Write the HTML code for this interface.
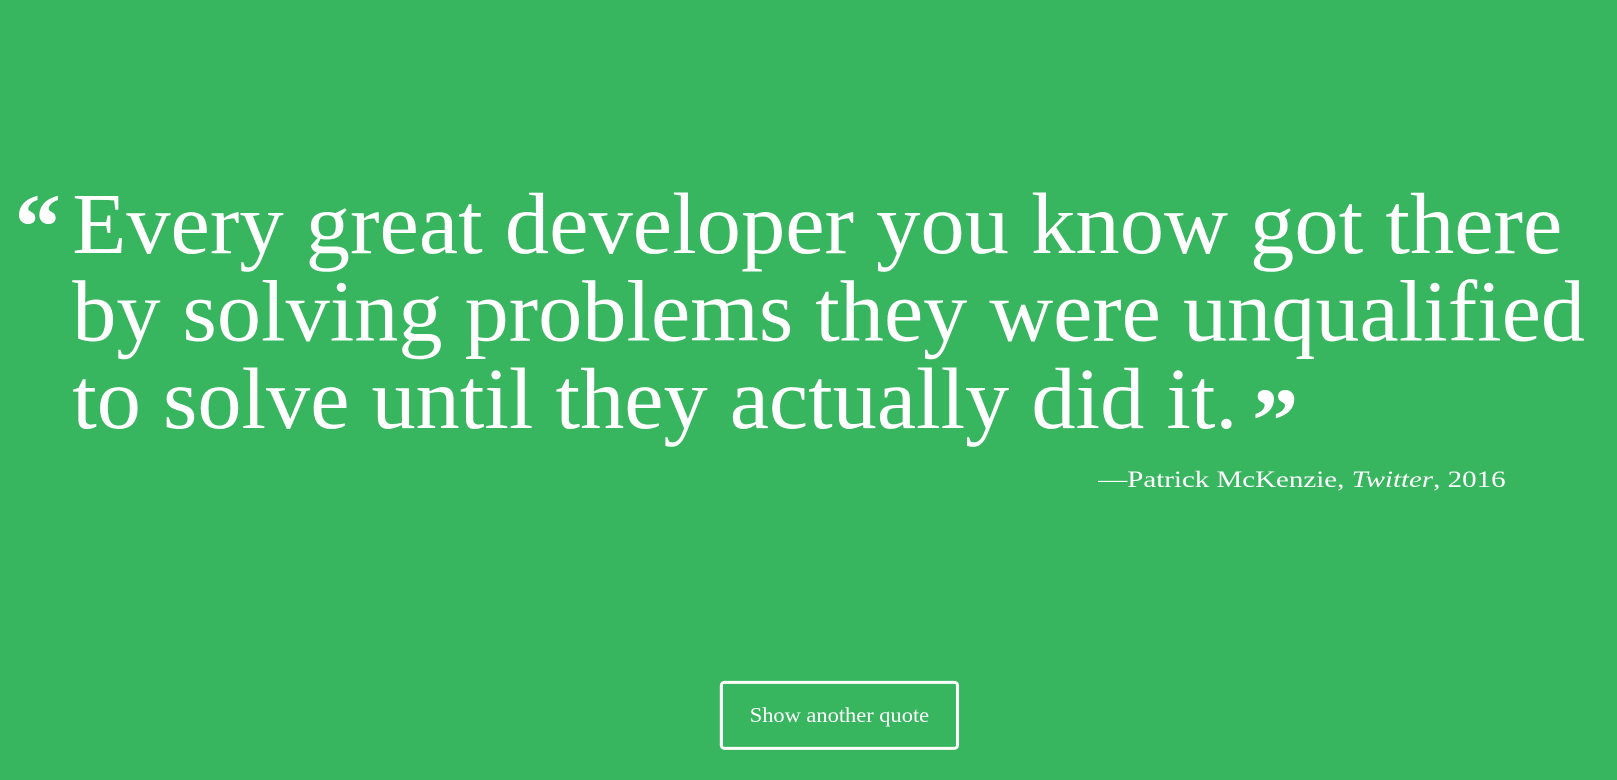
<!DOCTYPE html>
<html><head><meta charset="utf-8">
<style>
html,body{margin:0;padding:0;width:1617px;height:780px;overflow:hidden;background:#38b55f;}
svg{position:absolute;left:0;top:0;}
.q{font-family:"Liberation Serif",serif;fill:#fff;}
</style></head>
<body>
<svg width="1617" height="780" viewBox="0 0 1568 756">
  <text class="q" x="14" y="250" font-size="90" font-weight="bold">“</text>
  <g>
    <text class="q" x="70" y="245" font-size="84" textLength="1445" lengthAdjust="spacingAndGlyphs">Every great developer you know got there</text>
    <text class="q" x="70" y="330" font-size="84" textLength="1467" lengthAdjust="spacingAndGlyphs">by solving problems they were unqualified</text>
    <text class="q" x="70" y="415" font-size="84" textLength="1130" lengthAdjust="spacingAndGlyphs">to solve until they actually did it.</text>
  </g>
  <text class="q" x="1214" y="438" font-size="90" font-weight="bold">”</text>
  <text class="q" x="1065" y="472" font-size="23" textLength="395" lengthAdjust="spacingAndGlyphs">—Patrick McKenzie, <tspan font-style="italic">Twitter</tspan>, 2016</text>
  <g>
    <rect x="699.5" y="661.5" width="229" height="64" rx="3" fill="none" stroke="#fff" stroke-width="3"/>
    <text class="q" x="727" y="700" font-size="20" textLength="174" lengthAdjust="spacingAndGlyphs">Show another quote</text>
  </g>
</svg>
</body></html>
